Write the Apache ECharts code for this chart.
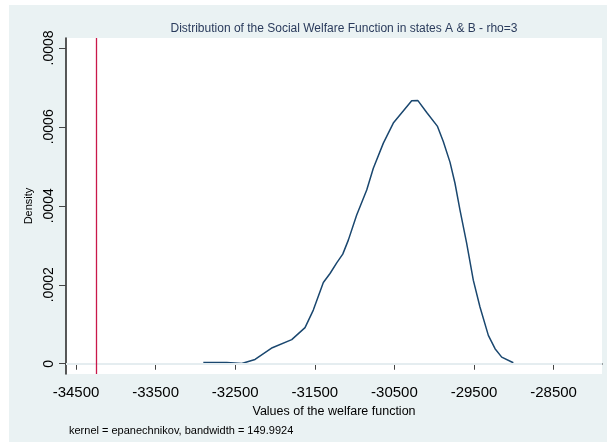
<!DOCTYPE html>
<html>
<head>
<meta charset="utf-8">
<script src="https://cdn.jsdelivr.net/npm/echarts@6/dist/echarts.min.js"></script>
<style>
  html, body { margin: 0; padding: 0; background: #fff; }
  #plot { width: 607px; height: 448px; }
</style>
</head>
<body>
<div id="plot"></div>
<script>
// kernel density estimate
var welfareValues = [-32901, -32607, -32418, -32251, -32034, -31790, -31623, -31519, -31393, -31309,
  -31225, -31149, -31079, -30974, -30848, -30765, -30639, -30514, -30283, -30207,
  -30094, -29961, -29886, -29801, -29739, -29676, -29592, -29509, -29425, -29320,
  -29236, -29152, -29006];
var densities = [0.0000033, 0.0000033, 0.0000008, 0.0000109, 0.0000406, 0.0000610, 0.0000914, 0.0001359, 0.0002057, 0.0002286,
  0.0002555, 0.0002776, 0.0003131, 0.0003766, 0.0004401, 0.0004952, 0.0005587, 0.0006095, 0.0006662, 0.0006669,
  0.0006365, 0.0006019, 0.0005628, 0.0005100, 0.0004571, 0.0003893, 0.0003048, 0.0002116, 0.0001437, 0.0000719,
  0.0000381, 0.0000168, 0.0000025];

var xTicks = [-34500, -33500, -32500, -31500, -30500, -29500, -28500];
var yTicks = [0, 0.0002, 0.0004, 0.0006, 0.0008];
var gridLevels = [0, 0.0002, 0.0004, 0.0006];
var referenceLine = -34250;

var titleText = 'Distribution of the Social Welfare Function in states A & B - rho=3';
var noteText = 'kernel = epanechnikov, bandwidth = 149.9924';

var fontName = '"Liberation Sans", Arial, sans-serif';

var myChart = echarts.init(document.getElementById('plot'));

var curve = welfareValues.map(function (x, i) {
  return [x, densities[i]];
});

var option = {
  backgroundColor: '#fff',
  animation: false,
  textStyle: { fontFamily: fontName },
  graphic: [{
    type: 'rect',
    z: -100,
    silent: true,
    shape: { x: 9, y: 5, width: 598, height: 437 },
    style: { fill: '#eaf2f3' }
  }],
  title: [{
    text: titleText,
    left: 339,
    textAlign: 'center',
    top: 18,
    textStyle: { fontSize: 12, fontWeight: 'normal', color: '#2a3b5c', fontFamily: fontName }
  }, {
    text: noteText,
    left: 64,
    top: 420,
    textStyle: { fontSize: 11, fontWeight: 'normal', color: '#000', fontFamily: fontName }
  }],
  grid: {
    left: 66,
    right: 5,
    top: 38,
    bottom: 74,
    show: true,
    backgroundColor: '#fff',
    borderWidth: 0
  },
  xAxis: {
    type: 'value',
    min: -34626,
    max: -27892,
    name: 'Values of the welfare function',
    nameLocation: 'middle',
    nameGap: 25,
    nameTextStyle: { fontSize: 12.5, color: '#000' },
    axisLine: { show: true, lineStyle: { color: '#222', width: 1.5 } },
    axisTick: { show: true, length: 6, customValues: xTicks, lineStyle: { color: '#444' } },
    axisLabel: {
      customValues: xTicks,
      fontSize: 15,
      color: '#000',
      margin: 11,
      formatter: function (v) {
        return String(v);
      }
    },
    splitLine: { show: false }
  },
  yAxis: {
    type: 'value',
    min: -0.000026,
    max: 0.000825,
    name: 'Density',
    nameLocation: 'middle',
    nameGap: 28,
    nameTextStyle: { fontSize: 11, color: '#000' },
    axisLine: { show: true, lineStyle: { color: '#222', width: 1.5 } },
    axisTick: { show: true, length: 7, customValues: yTicks, lineStyle: { color: '#444' } },
    axisLabel: {
      customValues: yTicks,
      rotate: 90,
      fontSize: 14,
      color: '#000',
      margin: 10,
      formatter: function (v) {
        if (v === 0) {
          return '0';
        }
        return v.toFixed(4).replace(/^0/, '');
      }
    },
    splitLine: { show: false }
  },
  series: [{
    // grid lines and the reference line
    type: 'line',
    data: [],
    z: 1,
    silent: true,
    markLine: {
      silent: true,
      symbol: 'none',
      label: { show: false },
      data: gridLevels.map(function (v) {
        return { yAxis: v, lineStyle: { color: '#e6eef0', width: 1.5, type: 'solid' } };
      }).concat([{ xAxis: referenceLine, lineStyle: { color: '#c9184a', width: 1.3, type: 'solid' } }])
    }
  }, {
    name: 'density',
    type: 'line',
    z: 3,
    data: curve,
    showSymbol: false,
    lineStyle: { color: '#1a476f', width: 1.5 }
  }]
};

myChart.setOption(option);
</script>
</body>
</html>
